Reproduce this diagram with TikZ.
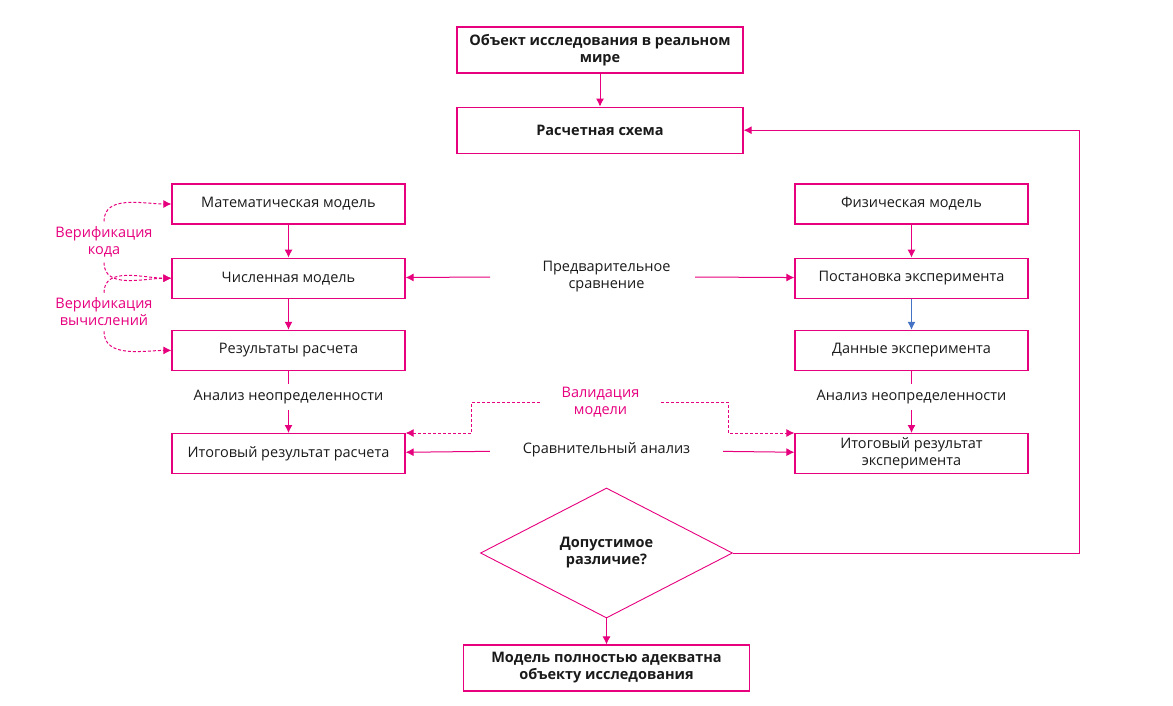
\documentclass[tikz,border=0pt]{standalone}
\usepackage{fontspec}
\setmainfont{Open Sans}
\usetikzlibrary{arrows.meta,positioning,shapes.geometric}
\usepackage{xcolor}
\definecolor{accent}{HTML}{E6007E}
\definecolor{stepblue}{HTML}{4472C4}
\definecolor{ink}{HTML}{1A1A1A}

\begin{document}
\begin{tikzpicture}[x=1pt, y=-1pt, node distance=33pt, font=\fontsize{14.5}{17}\selectfont, color=ink]
\tikzset{
    mybox/.style={rectangle, draw=accent, line width=1.2pt, minimum width=233pt, minimum height=40pt, inner sep=2pt, align=center},
    mytop/.style={mybox, minimum width=286pt, minimum height=46pt, font=\fontsize{14.5}{17}\selectfont\bfseries},
    mydecision/.style={diamond, draw=accent, line width=0.9pt, minimum width=252pt, minimum height=130pt, inner sep=0pt, align=center, font=\fontsize{14.5}{17}\selectfont\bfseries},
    myarrow/.style={-{Latex[length=8pt, width=8pt]}, draw=accent, line width=1pt},
    mydash/.style={myarrow, dash pattern=on 3pt off 2pt},
    mylabel/.style={align=center, inner sep=0pt},
    myverif/.style={mylabel, text=accent, inner ysep=5pt}
}
\useasboundingbox (0,0) rectangle (1173,705);

% top of the chart
\node[mytop] (object) at (600,50) {Объект исследования в реальном\\мире};
\node[mytop, below=of object] (scheme) {Расчетная схема};

% calculation side
\node[mybox] (math) at (288.5,204) {Математическая модель};
\node[mybox, below=of math] (numeric) {Численная модель};
\node[mybox, below=31pt of numeric] (results) {Результаты расчета};
\node[mybox, below=62pt of results] (calcfinal) {Итоговый результат расчета};

% experiment side
\node[mybox] (physical) at (911.5,204) {Физическая модель};
\node[mybox, below=of physical] (setup) {Постановка эксперимента};
\node[mybox, below=31pt of setup] (data) {Данные эксперимента};
\node[mybox, below=62pt of data] (expfinal) {Итоговый результат\\эксперимента};

% labels between the columns
\node[mylabel, inner ysep=6pt] (uncL) at (288.5,397) {Анализ неопределенности};
\node[mylabel, inner ysep=6pt] (uncR) at (911.5,397) {Анализ неопределенности};
\node[mylabel] (pre) at (606.5,277) {Предварительное\\сравнение};
\coordinate (preL) at (490,277);
\coordinate (preR) at (695,277);
\node[mylabel, minimum width=233pt] (cmp) at (606.5,450) {Сравнительный анализ};
\node[mylabel, minimum width=121pt, text=accent] (valid) at (600.5,402) {Валидация\\модели};
\node[myverif] (vercode) at (104,242) {Верификация\\кода};
\node[myverif] (vercalc) at (104,312) {Верификация\\вычислений};

% decision
\node[mydecision] (decision) at (606.5,553) {Допустимое\\различие?};
\node[mytop, below=26pt of decision] (final) {Модель полностью адекватна\\объекту исследования};

\draw[myarrow] (object) -- (scheme);
\draw[myarrow] (math) -- (numeric);
\draw[myarrow] (numeric) -- (results);
\draw[myarrow] (physical) -- (setup);
\draw[myarrow, draw=stepblue] (setup) -- (data);

\draw[accent, line width=1pt] (results) -- (uncL);
\draw[myarrow] (uncL) -- (calcfinal);
\draw[accent, line width=1pt] (data) -- (uncR);
\draw[myarrow] (uncR) -- (expfinal);

\draw[myarrow] (preL) -- (numeric);
\draw[myarrow] (preR) -- (setup);
\draw[myarrow] (cmp) -- (calcfinal);
\draw[myarrow] (cmp) -- (expfinal);

\draw[mydash] (valid.west) -- ++(-68,0) |- (calcfinal.north east);
\draw[mydash] (valid.east) -- ++(67,0) |- (expfinal.north west);

\draw[mydash] (vercode.north) to[out=90, in=180] (math.west);
\draw[mydash] (vercode.south) to[out=-90, in=180] (numeric.west);
\draw[mydash] (vercalc.north) to[out=90, in=180] (numeric.west);
\draw[mydash] (vercalc.south) to[out=-90, in=180] (results.west);

\draw[myarrow] (decision) -- (final);
\draw[myarrow] (decision.east) -- ++(347,0) |- (scheme.east);

\end{tikzpicture}
\end{document}
